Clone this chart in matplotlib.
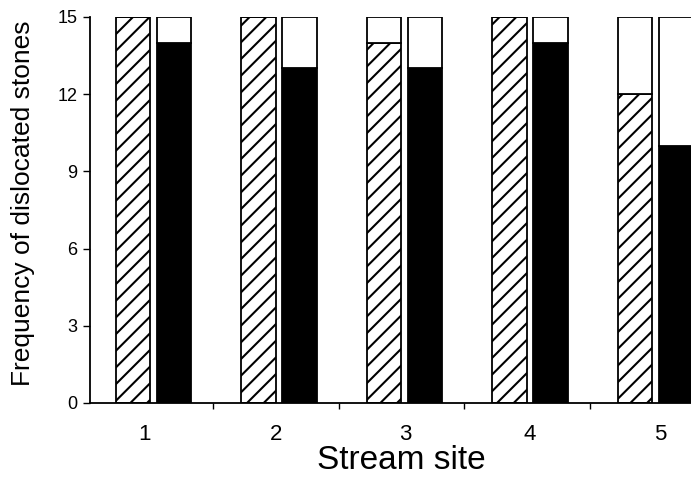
import matplotlib.pyplot as plt
import matplotlib as mpl

# Frequency of dislocated stones per stream site (out of 15)
sites = ['1', '2', '3', '4', '5']
hatched_vals = [15, 15, 14, 15, 12]
black_vals = [14, 13, 13, 14, 10]
total = 15

mpl.rcParams['font.family'] = ['Liberation Sans', 'DejaVu Sans']
mpl.rcParams['hatch.linewidth'] = 1.5

fig = plt.figure(figsize=(6.91, 4.82), dpi=100)
ax = fig.add_axes([0.130, 0.164, 0.870, 0.801])

x = list(range(1, len(sites) + 1))
w = 0.275
xh = [i - 0.11 for i in x]
xb = [i + 0.215 for i in x]

# hatched bars with white remainder on top
ax.bar(xh, hatched_vals, width=w, color='white', edgecolor='black',
       hatch='//', linewidth=1.3)
ax.bar(xh, [total - v for v in hatched_vals], bottom=hatched_vals, width=w,
       color='white', edgecolor='black', linewidth=1.3)
# black bars with white remainder on top
ax.bar(xb, black_vals, width=w, color='black', edgecolor='black', linewidth=1.3)
ax.bar(xb, [total - v for v in black_vals], bottom=black_vals, width=w,
       color='white', edgecolor='black', linewidth=1.3)

ax.set_xlim(0.546, 5.335)
ax.set_ylim(0, 15)
ax.set_yticks([0, 3, 6, 9, 12, 15])
# labels in the original sit slightly off the bar pairs
ax.set_xticks([0.984, 2.028, 3.056, 4.052, 5.088])
ax.set_xticklabels(sites)
ax.set_xticks([1.53, 2.53, 3.53, 4.53], minor=True)
ax.tick_params(axis='x', which='major', length=0, labelsize=16, pad=15)
ax.tick_params(axis='x', which='minor', length=4, width=1, direction='out')
ax.tick_params(axis='y', length=5, width=1, direction='out', labelsize=13, pad=4)

for s in ['top', 'right']:
    ax.spines[s].set_visible(False)
for s in ['left', 'bottom']:
    ax.spines[s].set_linewidth(1.3)

ax.set_xlabel('Stream site', fontsize=24)
ax.xaxis.set_label_coords(0.5175, -0.108)
ax.set_ylabel('Frequency of dislocated stones', fontsize=19)
ax.yaxis.set_label_coords(-0.0915, 0.517)

fig.savefig('out.png', dpi=100)
